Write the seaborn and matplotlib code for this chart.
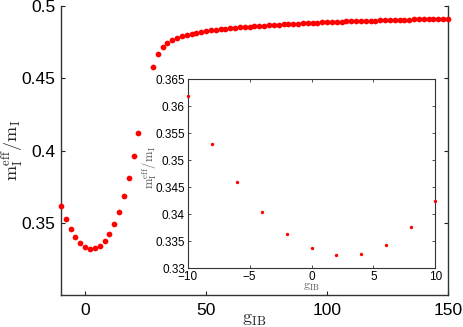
import matplotlib
matplotlib.use("Agg")
import matplotlib.pyplot as plt
import seaborn as sns
import pandas as pd

sns.set_theme(style="white")
plt.rcParams['font.family'] = ['Liberation Sans', 'DejaVu Sans']
plt.rcParams['mathtext.fontset'] = 'cm'

# ---- data ----
g_main = [-10, -8, -6, -4, -2, 0, 2, 4, 6, 8, 10, 12, 14, 16, 18, 20, 22,
          28, 30, 32, 34, 36, 38, 40, 42, 44, 46, 48, 50, 52, 54, 56, 58, 60,
          62, 64, 66, 68, 70, 72, 74, 76, 78, 80, 82, 84, 86, 88, 90, 92, 94,
          96, 98, 100, 102, 104, 106, 108, 110, 112, 114, 116, 118, 120, 122,
          124, 126, 128, 130, 132, 134, 136, 138, 140, 142, 144, 146, 148, 150]
m_main = [0.3619, 0.3531, 0.3460, 0.3404, 0.3364, 0.3337, 0.3325, 0.3327,
          0.3344, 0.3376, 0.3425, 0.3493, 0.3579, 0.3685, 0.3810, 0.3961, 0.4123,
          0.4581, 0.4666, 0.4714, 0.4745, 0.4765, 0.4779, 0.4790, 0.4800, 0.4808,
          0.4815, 0.4821, 0.4826, 0.4831, 0.4835, 0.4839, 0.4843, 0.4846, 0.4849,
          0.4852, 0.4855, 0.4858, 0.4860, 0.4863, 0.4865, 0.4867, 0.4869, 0.4871,
          0.4873, 0.4875, 0.4877, 0.4879, 0.4880, 0.4882, 0.4883, 0.4885, 0.4886,
          0.4888, 0.4889, 0.4890, 0.4892, 0.4893, 0.4894, 0.4895, 0.4896, 0.4897,
          0.4898, 0.4899, 0.4900, 0.4901, 0.4902, 0.4903, 0.4904, 0.4905, 0.4906,
          0.4907, 0.4908, 0.4909, 0.4910, 0.4910, 0.4911, 0.4912, 0.4913]

g_inset = [-10, -8, -6, -4, -2, 0, 2, 4, 6, 8, 10]
m_inset = [0.3619, 0.3531, 0.3460, 0.3404, 0.3364, 0.3337, 0.3325, 0.3327,
           0.3344, 0.3376, 0.3425]

main_xticks = [0, 50, 100, 150]
main_xticklabels = ["0", "50", "100", "150"]
main_yticks = [0.35, 0.4, 0.45, 0.5]
main_yticklabels = ["0.35", "0.4", "0.45", "0.5"]
inset_xticks = [-10, -5, 0, 5, 10]
inset_xticklabels = ["\u221210", "\u22125", "0", "5", "10"]
inset_yticks = [0.33, 0.335, 0.34, 0.345, 0.35, 0.355, 0.36, 0.365]
inset_yticklabels = ["0.33", "0.335", "0.34", "0.345", "0.35", "0.355", "0.36", "0.365"]

df_main = pd.DataFrame({"g": g_main, "m": m_main})
df_inset = pd.DataFrame({"g": g_inset, "m": m_inset})

fig = plt.figure(figsize=(4.63, 3.27), dpi=100)
ax = fig.add_axes([0.1317, 0.0979, 0.8359, 0.8838])
sns.scatterplot(data=df_main, x="g", y="m", ax=ax, color="#ff0000", s=17,
                linewidth=0, clip_on=False, zorder=3)
ax.set_xlim(-10, 150)
ax.set_ylim(0.3005, 0.5)
ax.set_xticks(main_xticks)
ax.set_xticklabels(main_xticklabels)
ax.set_yticks(main_yticks)
ax.set_yticklabels(main_yticklabels)
ax.tick_params(direction="in", length=3, width=0.8, colors="#222222",
               labelsize=12.5, right=True, left=True, bottom=True, pad=6)
ax.tick_params(axis="x", labelcolor="black")
ax.tick_params(axis="y", labelcolor="black", pad=4)
for s in ["left", "bottom", "right"]:
    ax.spines[s].set_color("#333333")
    ax.spines[s].set_linewidth(1.0)
ax.spines["top"].set_visible(False)
ax.set_xlabel(r"$\mathrm{g}_{\mathrm{IB}}$", fontsize=13)
ax.xaxis.set_label_coords(0.499, -0.054)
ax.set_ylabel(r"$\mathrm{m}_{\mathrm{I}}^{\mathrm{eff}}/\mathrm{m}_{\mathrm{I}}$",
              fontsize=13, va="center")
ax.yaxis.set_label_coords(-0.124, 0.50)

ins = fig.add_axes([0.4054, 0.1795, 0.5348, 0.578])
sns.scatterplot(data=df_inset, x="g", y="m", ax=ins, color="#ff0000", s=6,
                linewidth=0, clip_on=False, zorder=3)
ins.set_xlim(-10, 10)
ins.set_ylim(0.33, 0.365)
ins.set_xticks(inset_xticks)
ins.set_xticklabels(inset_xticklabels)
ins.set_yticks(inset_yticks)
ins.set_yticklabels(inset_yticklabels)
ins.tick_params(direction="in", length=2.5, width=0.6, colors="#333333",
                labelsize=8.5, top=True, right=True, left=True, bottom=True,
                labelcolor="black", pad=2)
for s in ins.spines.values():
    s.set_color("#333333")
    s.set_linewidth(0.8)
ins.set_xlabel(r"$\mathrm{g}_{\mathrm{IB}}$", fontsize=8.5, color="#555555")
ins.xaxis.set_label_coords(0.498, -0.067)
ins.set_ylabel(r"$\mathrm{m}_{\mathrm{I}}^{\mathrm{eff}}/\mathrm{m}_{\mathrm{I}}$",
               fontsize=9, color="#555555", va="center")
ins.yaxis.set_label_coords(-0.152, 0.536)

fig.savefig("out.png", dpi=100)
